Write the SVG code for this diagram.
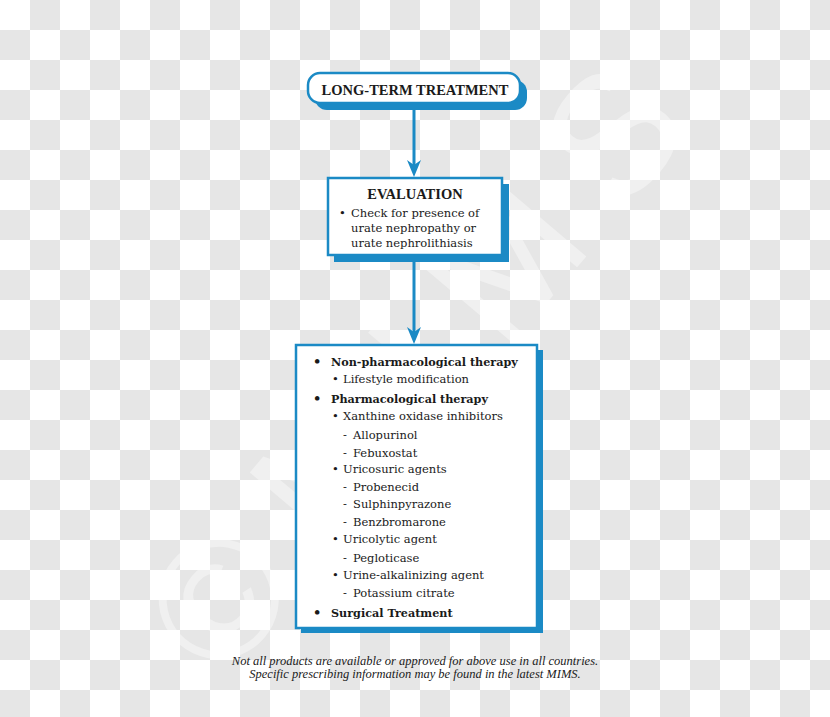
<svg xmlns="http://www.w3.org/2000/svg" width="830" height="717" viewBox="0 0 830 717">
<defs>
<pattern id="checker" x="0" y="0" width="60" height="60" patternUnits="userSpaceOnUse">
<rect width="60" height="60" fill="#ffffff"/>
<rect x="30" y="0" width="30" height="30" fill="#e6e6e6"/>
<rect x="0" y="30" width="30" height="30" fill="#e6e6e6"/>
</pattern>
<marker id="arrow" viewBox="0 -7 17 14" markerWidth="17" markerHeight="14" refX="10" refY="0" orient="auto" markerUnits="userSpaceOnUse">
<path d="M0,-7 L17,0 L0,7 L5,0 Z" fill="#1b8ac5"/>
</marker>
</defs>
<style>
.shadow{fill:#1b8ac5}
.box{fill:#ffffff;stroke:#1b8ac5;stroke-width:2.5}
.conn{stroke:#1b8ac5;stroke-width:3;fill:none}
text{font-family:"Liberation Serif","DejaVu Serif",serif;fill:#1a1a1a}
.title{font-size:14.5px;font-weight:bold;text-anchor:middle}
.body{font-family:"DejaVu Serif","Liberation Serif",serif;font-size:11.5px}
.bold{font-weight:bold;font-size:11.2px}
.dot{font-family:"DejaVu Serif","Liberation Serif",serif;font-size:13px;font-weight:bold}
.note{font-size:12.5px;font-style:italic;text-anchor:middle}
.wm{font-family:"Liberation Sans",sans-serif;font-size:170px;fill:#ffffff;opacity:0.4;letter-spacing:40px}
</style>
<rect width="830" height="717" fill="url(#checker)"/>
<g id="watermark">
<text class="wm" transform="translate(218,598) rotate(-49.7)" x="-63" y="60">©MIMS</text>
</g>
<g id="connectors">
<line class="conn" x1="414" y1="104" x2="414" y2="170" marker-end="url(#arrow)"/>
<line class="conn" x1="414" y1="256" x2="414" y2="337" marker-end="url(#arrow)"/>
</g>
<g id="long-term-treatment">
<rect class="shadow" x="315" y="80" width="212" height="30" rx="12"/>
<rect class="box" x="308" y="73" width="212" height="30" rx="12"/>
<text class="title" x="415" y="95">LONG-TERM TREATMENT</text>
</g>
<g id="evaluation">
<rect class="shadow" x="334" y="184" width="175" height="78"/>
<rect class="box" x="328" y="178" width="174" height="77"/>
<text class="title" x="415" y="199">EVALUATION</text>
<text class="body" x="339" y="217">•</text>
<text class="body" x="351" y="217">Check for presence of</text>
<text class="body" x="351" y="232">urate nephropathy or</text>
<text class="body" x="351" y="247">urate nephrolithiasis</text>
</g>
<g id="therapy">
<rect class="shadow" x="301" y="350" width="242" height="283"/>
<rect class="box" x="296" y="345" width="241" height="283"/>
<text class="dot" x="313" y="366">•</text>
<text class="body bold" x="331" y="366">Non-pharmacological therapy</text>
<text class="body" x="332" y="383">•</text>
<text class="body" x="343" y="383">Lifestyle modification</text>
<text class="dot" x="313" y="403">•</text>
<text class="body bold" x="331" y="403">Pharmacological therapy</text>
<text class="body" x="332" y="420">•</text>
<text class="body" x="343" y="420">Xanthine oxidase inhibitors</text>
<text class="body" x="343" y="439">-</text>
<text class="body" x="353" y="439">Allopurinol</text>
<text class="body" x="343" y="457">-</text>
<text class="body" x="353" y="457">Febuxostat</text>
<text class="body" x="332" y="473">•</text>
<text class="body" x="343" y="473">Uricosuric agents</text>
<text class="body" x="343" y="491">-</text>
<text class="body" x="353" y="491">Probenecid</text>
<text class="body" x="343" y="508">-</text>
<text class="body" x="353" y="508">Sulphinpyrazone</text>
<text class="body" x="343" y="526">-</text>
<text class="body" x="353" y="526">Benzbromarone</text>
<text class="body" x="332" y="543">•</text>
<text class="body" x="343" y="543">Uricolytic agent</text>
<text class="body" x="343" y="562">-</text>
<text class="body" x="353" y="562">Pegloticase</text>
<text class="body" x="332" y="579">•</text>
<text class="body" x="343" y="579">Urine-alkalinizing agent</text>
<text class="body" x="343" y="597">-</text>
<text class="body" x="353" y="597">Potassium citrate</text>
<text class="dot" x="313" y="617">•</text>
<text class="body bold" x="331" y="617">Surgical Treatment</text>
</g>
<g id="footnote">
<text class="note" x="415" y="665">Not all products are available or approved for above use in all countries.</text>
<text class="note" x="415" y="678">Specific prescribing information may be found in the latest MIMS.</text>
</g>
</svg>
